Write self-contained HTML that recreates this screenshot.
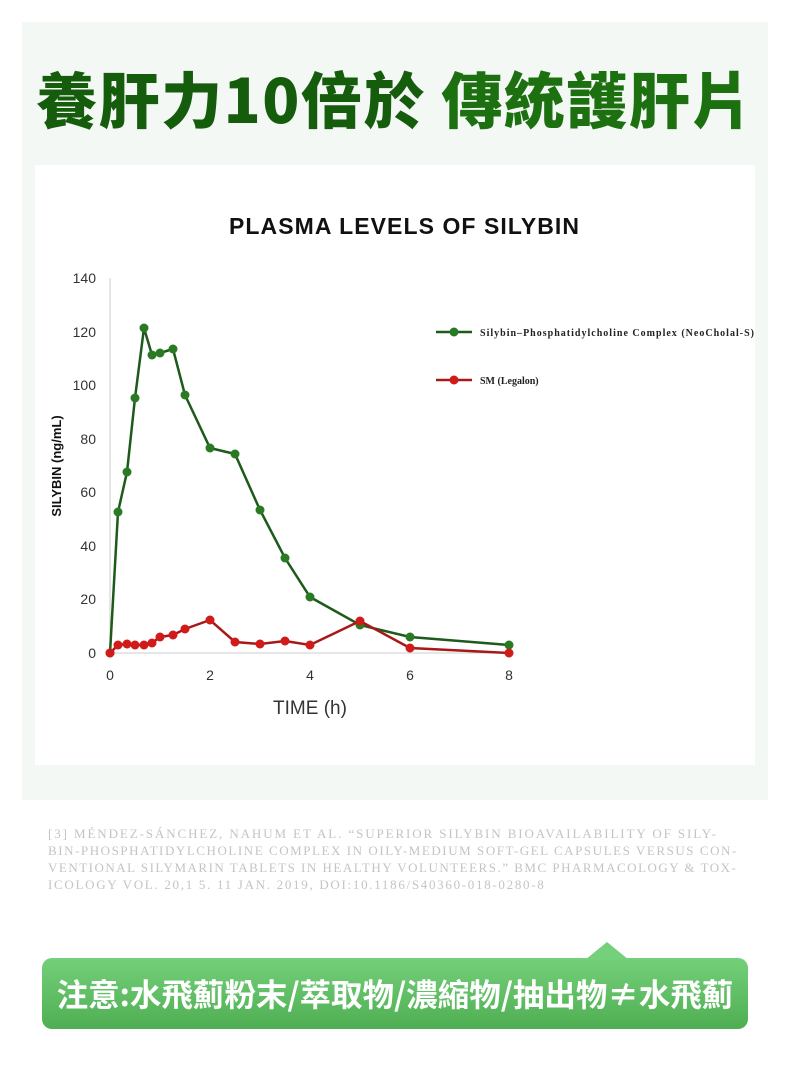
<!DOCTYPE html>
<html><head><meta charset="utf-8"><style>
body{margin:0;width:790px;height:1078px;background:#fff;position:relative;overflow:hidden;font-family:"Liberation Sans","Noto Sans CJK TC",sans-serif}
.bg{position:absolute;left:22px;top:22px;width:746px;height:778px;background:#f3f8f5}
.white{position:absolute;left:35px;top:165px;width:720px;height:600px;background:#fff}
h1{position:absolute;left:0;top:57px;width:790px;text-align:center;margin:0;font-size:61px;font-weight:900;color:#1d7010;font-family:"Noto Sans CJK TC",sans-serif;line-height:80px;letter-spacing:1.5px}
h1 span{color:#155c0c}
.ref{position:absolute;left:48px;top:825px;width:720px;font-family:"Liberation Serif",serif;font-size:13px;line-height:17px;color:#c4c4c4;white-space:nowrap}
.btn{position:absolute;left:42px;top:958px;width:706px;height:71px;background:linear-gradient(#74d07a,#4fae52);border-radius:10px;color:#fff;font-size:31.5px;font-weight:bold;text-align:center;line-height:71px;font-family:"Noto Sans CJK TC",sans-serif}
.tri{position:absolute;left:585px;top:942px;width:0;height:0;border-left:22px solid transparent;border-right:22px solid transparent;border-bottom:18px solid #74d07a}
</style></head><body>
<div class="bg"></div>
<h1><span>養肝力10倍於</span> 傳統護肝片</h1>
<div class="white"></div>
<svg style="position:absolute;left:0;top:0" width="790" height="800">
<text x="404" y="234" text-anchor="middle" font-size="23" font-weight="bold" fill="#111" font-family="Liberation Sans" textLength="350">PLASMA LEVELS OF SILYBIN</text>
<line x1="110" y1="278" x2="110" y2="653" stroke="#ccc"/>
<line x1="110" y1="653" x2="510" y2="653" stroke="#ccc"/>
<g font-size="14" fill="#333" text-anchor="end" font-family="Liberation Sans">
<text x="96" y="283">140</text><text x="96" y="337">120</text><text x="96" y="390">100</text><text x="96" y="444">80</text><text x="96" y="497">60</text><text x="96" y="551">40</text><text x="96" y="604">20</text><text x="96" y="658">0</text></g>
<g font-size="14" fill="#333" text-anchor="middle" font-family="Liberation Sans">
<text x="110" y="680">0</text><text x="210" y="680">2</text><text x="310" y="680">4</text><text x="410" y="680">6</text><text x="509" y="680">8</text></g>
<text x="310" y="714" text-anchor="middle" font-size="19" fill="#333">TIME (h)</text>
<text transform="translate(61,466) rotate(-90)" text-anchor="middle" font-size="13" font-weight="bold" fill="#111">SILYBIN (ng/mL)</text>
<polyline fill="none" stroke="#1e5a1a" stroke-width="2.5" points="110,653 118,512 127,472 135,398 144,328 152,355 160,353 173,349 185,395 210,448 235,454 260,510 285,558 310,597 360,625 410,637 509,645"/>
<g fill="#2a7a25">
<circle cx="110" cy="653" r="4.5"/><circle cx="118" cy="512" r="4.5"/><circle cx="127" cy="472" r="4.5"/><circle cx="135" cy="398" r="4.5"/><circle cx="144" cy="328" r="4.5"/><circle cx="152" cy="355" r="4.5"/><circle cx="160" cy="353" r="4.5"/><circle cx="173" cy="349" r="4.5"/><circle cx="185" cy="395" r="4.5"/><circle cx="210" cy="448" r="4.5"/><circle cx="235" cy="454" r="4.5"/><circle cx="260" cy="510" r="4.5"/><circle cx="285" cy="558" r="4.5"/><circle cx="310" cy="597" r="4.5"/><circle cx="360" cy="625" r="4.5"/><circle cx="410" cy="637" r="4.5"/><circle cx="509" cy="645" r="4.5"/></g>
<polyline fill="none" stroke="#a81818" stroke-width="2.5" points="110,653 118,645 127,644 135,645 144,645 152,643 160,637 173,635 185,629 210,620 235,642 260,644 285,641 310,645 360,621 410,648 509,653"/>
<g fill="#d11a1a">
<circle cx="110" cy="653" r="4.5"/><circle cx="118" cy="645" r="4.5"/><circle cx="127" cy="644" r="4.5"/><circle cx="135" cy="645" r="4.5"/><circle cx="144" cy="645" r="4.5"/><circle cx="152" cy="643" r="4.5"/><circle cx="160" cy="637" r="4.5"/><circle cx="173" cy="635" r="4.5"/><circle cx="185" cy="629" r="4.5"/><circle cx="210" cy="620" r="4.5"/><circle cx="235" cy="642" r="4.5"/><circle cx="260" cy="644" r="4.5"/><circle cx="285" cy="641" r="4.5"/><circle cx="310" cy="645" r="4.5"/><circle cx="360" cy="621" r="4.5"/><circle cx="410" cy="648" r="4.5"/><circle cx="509" cy="653" r="4.5"/></g>
<line x1="436" y1="332" x2="472" y2="332" stroke="#1e5a1a" stroke-width="2.5"/><circle cx="454" cy="332" r="4.5" fill="#2a7a25"/>
<text x="480" y="336" font-size="10" font-weight="bold" font-family="Liberation Serif" fill="#222" textLength="274">Silybin–Phosphatidylcholine Complex (NeoCholal-S)</text>
<line x1="436" y1="380" x2="472" y2="380" stroke="#a81818" stroke-width="2.5"/><circle cx="454" cy="380" r="4.5" fill="#d11a1a"/>
<text x="480" y="384" font-size="10" font-weight="bold" font-family="Liberation Serif" fill="#222">SM (Legalon)</text>
</svg>
<div class="ref"><span style="letter-spacing:1.9px">[3] MÉNDEZ-SÁNCHEZ, NAHUM ET AL. “SUPERIOR SILYBIN BIOAVAILABILITY OF SILY-</span><br><span style="letter-spacing:1.55px">BIN-PHOSPHATIDYLCHOLINE COMPLEX IN OILY-MEDIUM SOFT-GEL CAPSULES VERSUS CON-</span><br><span style="letter-spacing:1.5px">VENTIONAL SILYMARIN TABLETS IN HEALTHY VOLUNTEERS.” BMC PHARMACOLOGY &amp; TOX-</span><br><span style="letter-spacing:1.7px">ICOLOGY VOL. 20,1 5. 11 JAN. 2019, DOI:10.1186/S40360-018-0280-8</span></div>
<div class="tri"></div>
<div class="btn">注意:水飛薊粉末/萃取物/濃縮物/抽出物≠水飛薊</div>
</body></html>
